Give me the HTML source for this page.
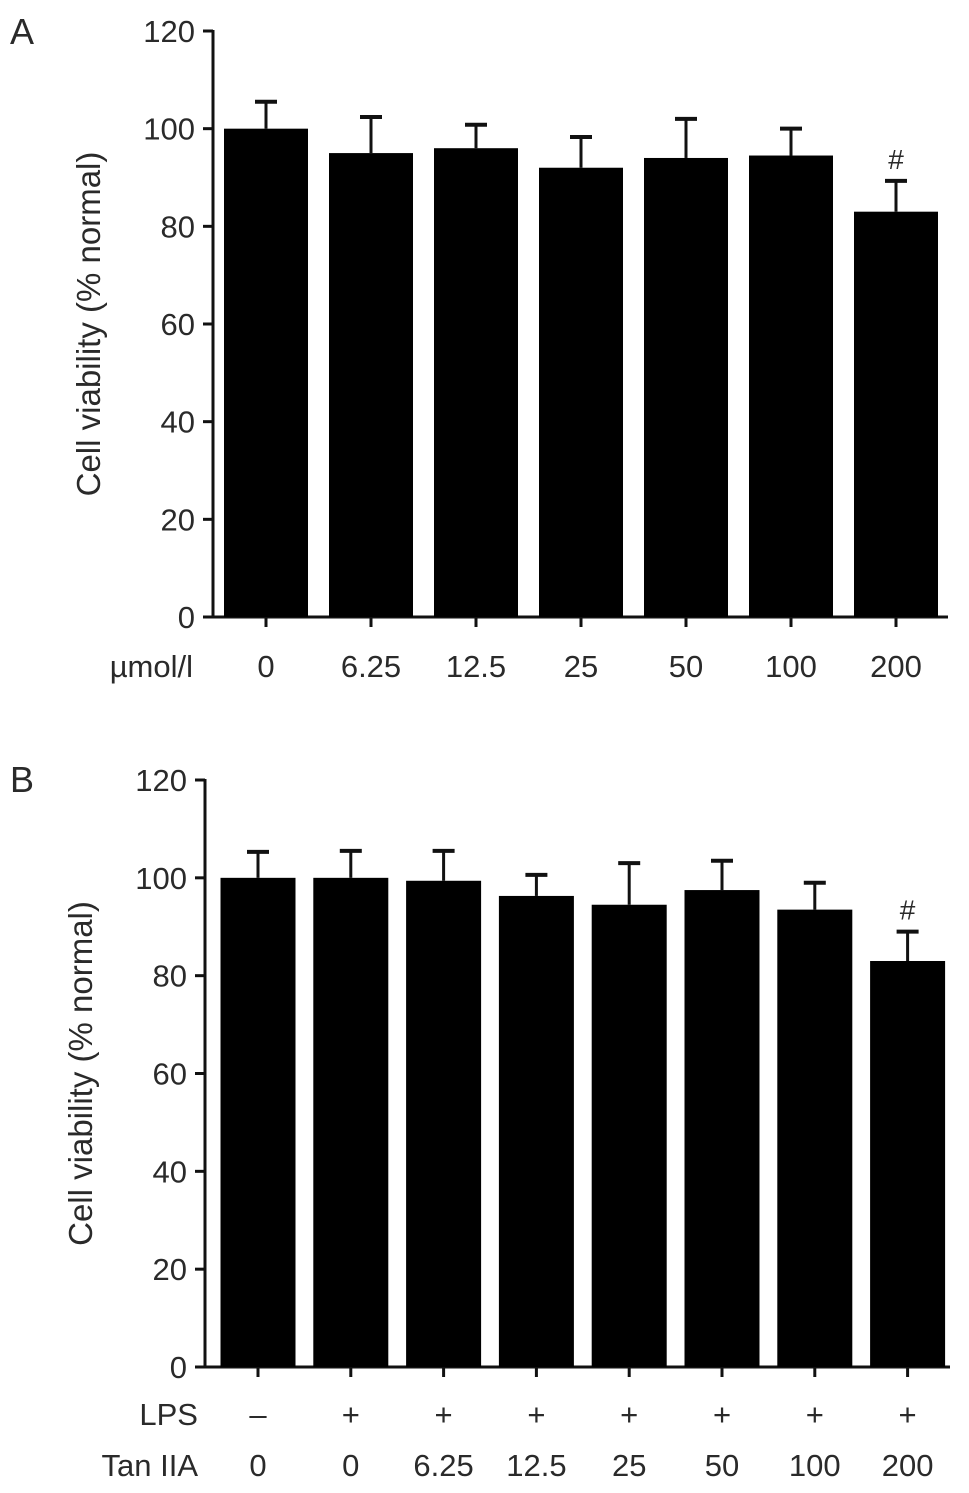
<!DOCTYPE html>
<html><head><meta charset="utf-8"><style>
html,body{margin:0;padding:0;background:#fff;}
svg text{font-family:"Liberation Sans",sans-serif;fill:#2a2a2a;}
</style></head><body>
<svg id="chart" width="969" height="1488" viewBox="0 0 969 1488" xmlns="http://www.w3.org/2000/svg"></svg>
<script>
const catsA=["0","6.25","12.5","25","50","100","200"];
const valsA=[100,95,96,92,94,94.5,83];
const errA=[105.5,102.4,100.8,98.3,102,100,89.3];
const sigA=[false,false,false,false,false,false,true];
const lpsB=["–","+","+","+","+","+","+","+"];
const catsB=["0","0","6.25","12.5","25","50","100","200"];
const valsB=[100,100,99.4,96.3,94.5,97.5,93.5,83];
const errB=[105.3,105.5,105.5,100.6,103,103.5,99,89];
const sigB=[false,false,false,false,false,false,false,true];
const ticks=[0,20,40,60,80,100,120];

const svg=document.getElementById('chart');
const NS="http://www.w3.org/2000/svg";
function mk(tag,attrs,txt){const e=document.createElementNS(NS,tag);for(const k in attrs)e.setAttribute(k,attrs[k]);if(txt!==undefined)e.textContent=txt;svg.appendChild(e);return e;}

function panel(o){
  const y=v=>o.y0-(v/120)*(o.y0-o.y120);
  const x=i=>o.x1+o.step*i;
  let t=mk('text',{x:o.lx,y:o.ly,'font-size':36},o.letter);
  
  
  let ax=mk('line',{x1:o.ax,y1:y(120)-1,x2:o.ax,y2:y(0)+1.5,stroke:'#111','stroke-width':3});
  
  
  let xa=mk('line',{x1:o.ax,y1:y(0),x2:o.xend,y2:y(0),stroke:'#111','stroke-width':3});
  
  
  ticks.forEach(v=>{
    let l=mk('line',{x1:o.ax-10,y1:y(v),x2:o.ax,y2:y(v),stroke:'#111','stroke-width':3});
    
    
    let tt=mk('text',{x:o.ax-18,y:y(v)+11,'font-size':31,'text-anchor':'end'},String(v));
    
    
  });
  let yt=mk('text',{x:0,y:0,'font-size':33,'text-anchor':'middle',transform:`translate(${o.ax-113},${y(60)}) rotate(-90)`},'Cell viability (% normal)');
  
  
  o.vals.forEach((v,i)=>{
    const cx=x(i);
    let ln=mk('line',{x1:cx,y1:y(o.err[i]),x2:cx,y2:y(v),stroke:'#111','stroke-width':3});
    
    
    let cap=mk('line',{x1:cx-11,y1:y(o.err[i]),x2:cx+11,y2:y(o.err[i]),stroke:'#111','stroke-width':4});
    
    
    let b=mk('rect',{x:cx-o.bw/2,y:y(v),width:o.bw,height:y(0)-y(v),fill:'#000'});
    
    
    let tk=mk('line',{x1:cx,y1:y(0),x2:cx,y2:y(0)+10,stroke:'#111','stroke-width':3});
    
    
    if(o.sig[i]){
      let s=mk('text',{x:cx,y:y(o.err[i])-12,'font-size':28,'text-anchor':'middle','font-family':'Liberation Serif'},'#');
      
      
    }
  });
  o.rows.forEach(r=>{
    let h=mk('text',{x:o.rowLabelX,y:r.y,'font-size':31,'text-anchor':'end'},r.label);
    
    
    r.cats.forEach((c,i)=>{
      let ct=mk('text',{x:x(i),y:r.y,'font-size':31,'text-anchor':'middle'},c);
      
      
    });
  });
}
panel({letter:'A',lx:10,ly:44,ax:213,y0:617,y120:31,x1:266,step:105,bw:84,xend:948,
  vals:valsA,err:errA,sig:sigA,rowLabelX:193,rows:[{label:'µmol/l',y:677,cats:catsA}]});
panel({letter:'B',lx:10,ly:792,ax:205,y0:1367,y120:780,x1:258,step:92.8,bw:75,xend:950,
  vals:valsB,err:errB,sig:sigB,rowLabelX:198,rows:[{label:'LPS',y:1425,cats:lpsB},{label:'Tan IIA',y:1476,cats:catsB}]});
</script>
</body></html>
